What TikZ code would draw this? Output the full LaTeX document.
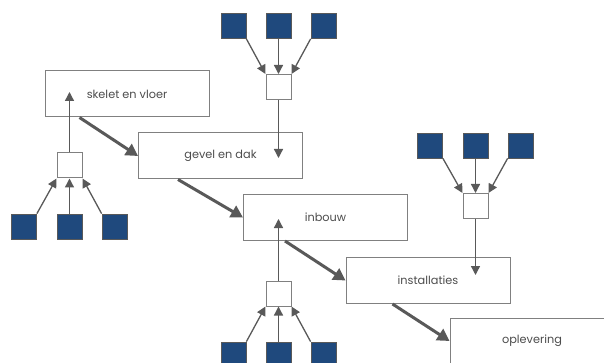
\documentclass[tikz,border=0pt]{standalone}
\usepackage{fontspec}
\setmainfont{Poppins}
\usetikzlibrary{arrows.meta,calc}
\definecolor{boxline}{HTML}{808080}
\definecolor{arrowgray}{HTML}{595959}
\definecolor{textgray}{HTML}{4D4D4D}
\definecolor{partblue}{HTML}{1F497D}
\tikzset{
  phase/.style={draw=boxline, line width=1pt, fill=white, minimum width=164pt, minimum height=46pt,
    inner sep=0pt, text=textgray, font=\fontsize{11.3}{13}\selectfont},
  hub/.style={draw=boxline, line width=1pt, fill=white, minimum size=25pt, inner sep=0pt},
  part/.style={draw=arrowgray, line width=0.8pt, fill=partblue, minimum size=25pt, inner sep=0pt},
  flow/.style={draw=arrowgray, line width=3pt, -{Triangle[length=12pt,width=13pt]}},
  feed/.style={draw=arrowgray, line width=1.3pt, -{Triangle[length=9pt,width=9pt]}},
}
\begin{document}
\begin{tikzpicture}[x=1pt,y=-1pt]
\useasboundingbox (0,0) rectangle (604,363);

% phases
\node[phase] (p1) at (127,94) {skelet en vloer};
\node[phase] (p2) at (220.5,156) {gevel en dak};
\node[phase] (p3) at (325.5,217.5) {inbouw};
\node[phase] (p4) at (428,280.5) {installaties};
\node[phase] (p5) at (532,341) {oplevering};

% phase sequence
\draw[flow] ($(p1.south west)+(35,0)$) -- (p2.west);
\draw[flow] ($(p2.south west)+(40,0)$) -- (p3.west);
\draw[flow] ($(p3.south west)+(42,0)$) -- (p4.west);
\draw[flow] ($(p4.south west)+(47,0)$) -- (p5.west);

% group feeding skelet en vloer (from below)
\node[hub] (h1) at (69.5,165.5) {};
\node[part] (a1) at (24,226.5) {};
\node[part] (a2) at (69.5,226.5) {};
\node[part] (a3) at (114.5,226.5) {};
\draw[feed] (a1.north east) -- (h1.south west);
\draw[feed] (a2.north) -- (h1.south);
\draw[feed] (a3.north west) -- (h1.south east);
\coordinate (t1) at (69.5,92);
\draw[feed] (h1.north) -- (t1);

% group feeding gevel en dak (from above)
\node[hub] (h2) at (278.5,87) {};
\node[part] (b1) at (233.5,26) {};
\node[part] (b2) at (278.5,26) {};
\node[part] (b3) at (323.5,26) {};
\draw[feed] (b1.south east) -- (h2.north west);
\draw[feed] (b2.south) -- (h2.north);
\draw[feed] (b3.south west) -- (h2.north east);
\coordinate (t2) at (278.5,158);
\draw[feed] (h2.south) -- (t2);

% group feeding inbouw (from below)
\node[hub] (h3) at (278.5,293.5) {};
\node[part] (c1) at (233.5,354.5) {};
\node[part] (c2) at (278.5,354.5) {};
\node[part] (c3) at (323.5,354.5) {};
\draw[feed] (c1.north east) -- (h3.south west);
\draw[feed] (c2.north) -- (h3.south);
\draw[feed] (c3.north west) -- (h3.south east);
\coordinate (t3) at (278.5,219);
\draw[feed] (h3.north) -- (t3);

% group feeding installaties (from above)
\node[hub] (h4) at (475.5,206) {};
\node[part] (d1) at (430,145.5) {};
\node[part] (d2) at (475.5,145.5) {};
\node[part] (d3) at (520.5,145.5) {};
\draw[feed] (d1.south east) -- (h4.north west);
\draw[feed] (d2.south) -- (h4.north);
\draw[feed] (d3.south west) -- (h4.north east);
\coordinate (t4) at (475.5,275);
\draw[feed] (h4.south) -- (t4);
\end{tikzpicture}
\end{document}
